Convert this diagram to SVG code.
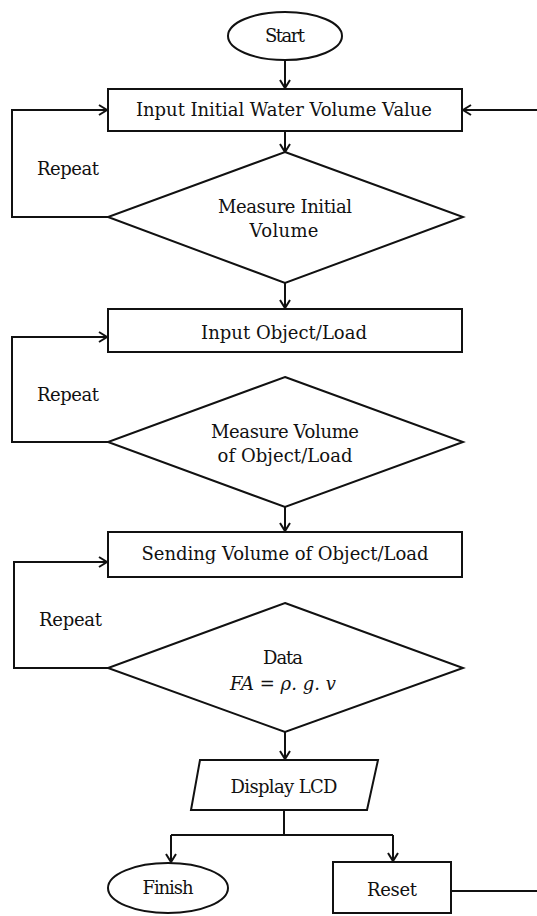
<svg xmlns="http://www.w3.org/2000/svg" width="537" height="916" viewBox="0 0 537 916">
  <style>
    .shape { fill: #fff; stroke: #111; stroke-width: 2; }
    .wire { fill: none; stroke: #111; stroke-width: 2; }
    .lbl { font-family: "DejaVu Serif", "Liberation Serif", serif; font-size: 18px; fill: #111; text-anchor: middle; }
    .side { font-family: "DejaVu Serif", "Liberation Serif", serif; font-size: 18px; fill: #111; }
    .math { font-family: "DejaVu Serif", "Liberation Serif", serif; font-size: 18px; font-style: italic; fill: #111; text-anchor: middle; }
  </style>
  <defs>
    <marker id="arrow" markerUnits="userSpaceOnUse" markerWidth="14" markerHeight="14" refX="9" refY="6" orient="auto">
      <path d="M1,1 L9,6 L1,11" fill="none" stroke="#111" stroke-width="2"/>
    </marker>
  </defs>

  <g id="connectors" class="wire">
    <path d="M285,60 V88" marker-end="url(#arrow)"/>
    <path d="M537,110 H463" marker-end="url(#arrow)"/>
    <path d="M285,131 V152" marker-end="url(#arrow)"/>
    <path d="M108,217 H12 V110 H107" marker-end="url(#arrow)"/>
    <path d="M285,283 V308" marker-end="url(#arrow)"/>
    <path d="M108,442 H12 V337 H107" marker-end="url(#arrow)"/>
    <path d="M285,507 V531" marker-end="url(#arrow)"/>
    <path d="M108,668 H14 V562 H107" marker-end="url(#arrow)"/>
    <path d="M285,732 V759" marker-end="url(#arrow)"/>
    <path d="M284,810 V835"/>
    <path d="M171,835 H393"/>
    <path d="M171,835 V862" marker-end="url(#arrow)"/>
    <path d="M393,835 V861" marker-end="url(#arrow)"/>
    <path d="M451,891 H537"/>
  </g>

  <g id="start">
    <ellipse class="shape" cx="285" cy="36" rx="57" ry="24"/>
    <text class="lbl" x="285" y="42" textLength="40">Start</text>
  </g>

  <g id="input-initial">
    <rect class="shape" x="108" y="89" width="354" height="42"/>
    <text class="lbl" x="284" y="116" textLength="296">Input Initial Water Volume Value</text>
  </g>

  <g id="measure-initial">
    <polygon class="shape" points="285,152 463,217 285,283 108,217"/>
    <text class="lbl" x="285" y="213" textLength="134">Measure Initial</text>
    <text class="lbl" x="284" y="237" textLength="69">Volume</text>
  </g>
  <text class="side" x="37" y="175" textLength="62">Repeat</text>

  <g id="input-object">
    <rect class="shape" x="108" y="309" width="354" height="43"/>
    <text class="lbl" x="284" y="339" textLength="166">Input Object/Load</text>
  </g>

  <g id="measure-object">
    <polygon class="shape" points="285,377 463,442 285,507 108,442"/>
    <text class="lbl" x="285" y="438" textLength="148">Measure Volume</text>
    <text class="lbl" x="285" y="462" textLength="135">of Object/Load</text>
  </g>
  <text class="side" x="37" y="401" textLength="62">Repeat</text>

  <g id="sending-volume">
    <rect class="shape" x="108" y="532" width="354" height="45"/>
    <text class="lbl" x="285" y="560" textLength="287">Sending Volume of Object/Load</text>
  </g>

  <g id="data">
    <polygon class="shape" points="285,603 463,668 285,732 108,668"/>
    <text class="lbl" x="283" y="664" textLength="40">Data</text>
    <text class="math" x="283" y="690" textLength="106">FA = ρ. g. v</text>
  </g>
  <text class="side" x="39" y="626" textLength="63">Repeat</text>

  <g id="display-lcd">
    <polygon class="shape" points="200,760 378,760 367,810 191,810"/>
    <text class="lbl" x="284" y="793" textLength="107">Display LCD</text>
  </g>

  <g id="finish">
    <ellipse class="shape" cx="168" cy="888" rx="60" ry="25"/>
    <text class="lbl" x="168" y="894" textLength="51">Finish</text>
  </g>

  <g id="reset">
    <rect class="shape" x="333" y="862" width="118" height="51"/>
    <text class="lbl" x="392" y="896" textLength="50">Reset</text>
  </g>
</svg>
